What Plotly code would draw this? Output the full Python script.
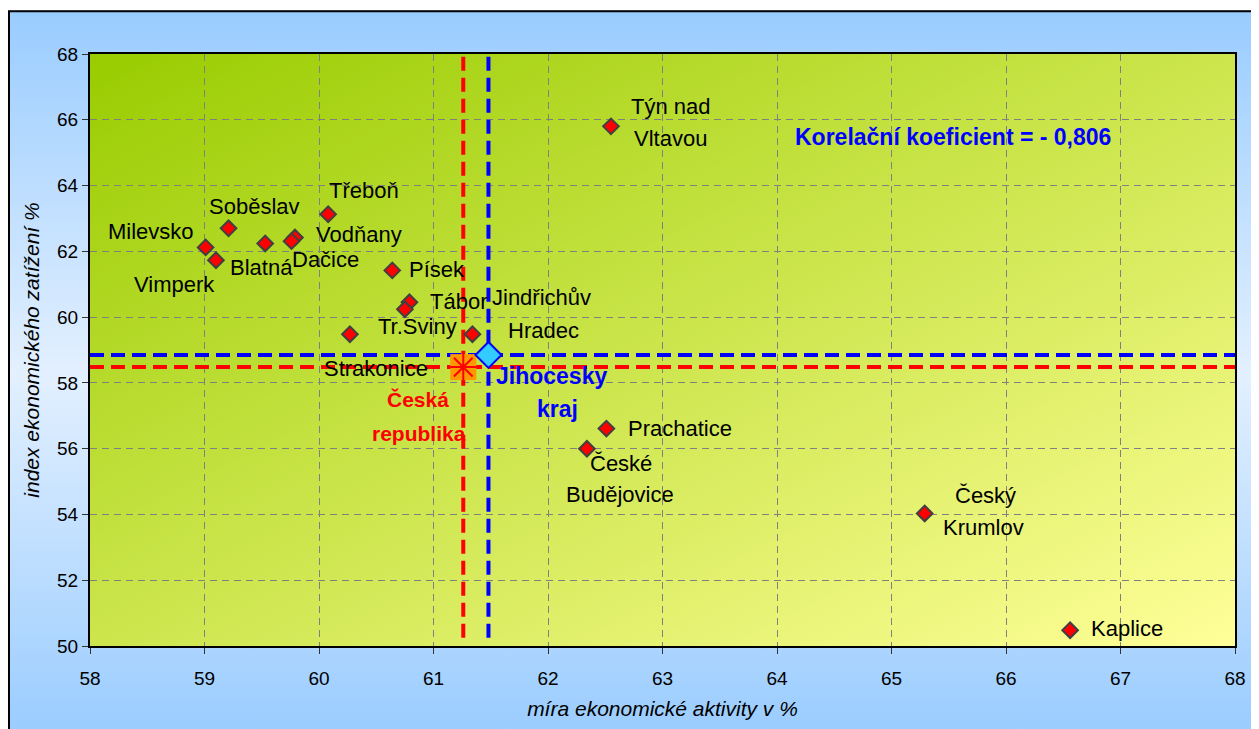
import base64
import plotly.graph_objects as go

# ---------------- data ----------------
districts = ["Týn nad Vltavou", "Třeboň", "Soběslav", "Milevsko", "Vimperk", "Blatná",
             "Vodňany", "Dačice", "Písek", "Tábor", "Tr.Sviny", "Strakonice",
             "Jindřichův Hradec", "Prachatice", "České Budějovice", "Český Krumlov", "Kaplice"]
activity = [62.55, 60.08, 59.21, 59.01, 59.10, 59.53,
            59.79, 59.76, 60.64, 60.79, 60.75, 60.27,
            61.34, 62.51, 62.34, 65.29, 66.56]
burden = [65.80, 63.13, 62.70, 62.12, 61.73, 62.24,
          62.42, 62.31, 61.42, 60.45, 60.24, 59.48,
          59.48, 56.61, 56.00, 54.03, 50.48]

kraj_name = "Jihocesky kraj"
kraj_x, kraj_y = 61.48, 58.85
cr_name = "Česká republika"
cr_x, cr_y = 61.26, 58.48

corr_text = "Korelační koeficient = - 0,806"
corr_pos = (65.54, 65.48)
x_ticks = list(range(58, 69, 1))
y_ticks = list(range(50, 69, 2))
x_title = "míra ekonomické aktivity v %"
y_title = "index ekonomického zatížení %"

# label lines with pixel offsets (styling only)
label_lines = {
    "Týn nad Vltavou": [("Týn nad", 60, 20), ("Vltavou", 60, -12)],
    "Třeboň": [("Třeboň", 36, 24)],
    "Soběslav": [("Soběslav", 26, 22)],
    "Milevsko": [("Milevsko", -55, 16)],
    "Vimperk": [("Vimperk", -41, -24)],
    "Blatná": [("Blatná", -4, -24)],
    "Vodňany": [("Vodňany", 64, 3)],
    "Dačice": [("Dačice", 34, -18)],
    "Písek": [("Písek", 45, 1)],
    "Tábor": [("Tábor", 49, 1)],
    "Tr.Sviny": [("Tr.Sviny", 13, -17)],
    "Strakonice": [("Strakonice", 26, -34)],
    "Jindřichův Hradec": [("Jindřichův", 69, 37), ("Hradec", 71, 4)],
    "Prachatice": [("Prachatice", 74, 0)],
    "České Budějovice": [("České", 34, -15), ("Budějovice", 33, -46)],
    "Český Krumlov": [("Český", 61, 18), ("Krumlov", 59, -14)],
    "Kaplice": [("Kaplice", 57, 2)],
}

FONT = "Liberation Sans, Arial, sans-serif"
DASH = "14px,7px"
fig = go.Figure()

# reference lines (Czech Republic = red, region = blue)
fig.add_trace(go.Scatter(x=[cr_x, cr_x], y=[50.25, 68], mode="lines",
                         line=dict(color="#FF0000", width=4, dash=DASH), hoverinfo="skip"))
fig.add_trace(go.Scatter(x=[58, 68], y=[cr_y, cr_y], mode="lines",
                         line=dict(color="#FF0000", width=4, dash=DASH), hoverinfo="skip"))
fig.add_trace(go.Scatter(x=[kraj_x, kraj_x], y=[50.25, 68], mode="lines",
                         line=dict(color="#0000FF", width=4, dash=DASH), hoverinfo="skip"))
fig.add_trace(go.Scatter(x=[58, 68], y=[kraj_y, kraj_y], mode="lines",
                         line=dict(color="#0000FF", width=4, dash=DASH), hoverinfo="skip"))

# districts
fig.add_trace(go.Scatter(x=activity, y=burden, mode="markers", text=districts,
                         marker=dict(symbol="diamond", size=12, color="#FF0000",
                                     line=dict(color="#404040", width=2))))
# Czech Republic marker
fig.add_trace(go.Scatter(x=[cr_x], y=[cr_y], mode="markers",
                         marker=dict(symbol="square", size=26, color="#FF9900",
                                     line=dict(width=0))))
fig.add_trace(go.Scatter(x=[cr_x], y=[cr_y], mode="markers",
                         marker=dict(symbol="asterisk-open", size=22, color="#FF0000",
                                     line=dict(color="#FF0000", width=2))))
# region marker
fig.add_trace(go.Scatter(x=[kraj_x], y=[kraj_y], mode="markers",
                         marker=dict(symbol="diamond", size=20, color="#33CCFF",
                                     line=dict(color="#0000FF", width=2))))

annotations = []
for name, xv, yv in zip(districts, activity, burden):
    for txt, dx, dy in label_lines[name]:
        annotations.append(dict(x=xv, y=yv, xref="x", yref="y", text=txt, showarrow=False,
                                xshift=dx, yshift=dy, xanchor="center", yanchor="middle",
                                font=dict(family=FONT, size=22, color="black")))
for txt, dx, dy in [("Česká", -45, -32), ("republika", -44, -66)]:
    annotations.append(dict(x=cr_x, y=cr_y, text=f"<b>{txt}</b>", showarrow=False,
                            xshift=dx, yshift=dy, font=dict(family=FONT, size=21, color="#FF0000")))
kraj_parts = kraj_name.split(" ")
for txt, dx, dy in [(kraj_parts[0], 63, -21), (kraj_parts[1], 69, -54)]:
    annotations.append(dict(x=kraj_x, y=kraj_y, text=f"<b>{txt}</b>", showarrow=False,
                            xshift=dx, yshift=dy, font=dict(family=FONT, size=23, color="#0000FF")))
annotations.append(dict(x=corr_pos[0], y=corr_pos[1], text=f"<b>{corr_text}</b>", showarrow=False,
                        font=dict(family=FONT, size=23, color="#0000FF")))


def svg_uri(svg):
    return "data:image/svg+xml;base64," + base64.b64encode(svg.encode("utf-8")).decode()


paper_svg = ('<svg xmlns="http://www.w3.org/2000/svg" width="100" height="100" preserveAspectRatio="none" viewBox="0 0 100 100">'
             '<defs><linearGradient id="g" x1="0" y1="0" x2="0" y2="1">'
             '<stop offset="0" stop-color="#99CCFF"/><stop offset="0.5" stop-color="#E3F0FF"/>'
             '<stop offset="1" stop-color="#99CCFF"/></linearGradient></defs>'
             '<rect x="0" y="0" width="100" height="100" fill="url(#g)"/></svg>')
plot_svg = ('<svg xmlns="http://www.w3.org/2000/svg" width="100" height="100" preserveAspectRatio="none" viewBox="0 0 100 100">'
            '<defs><linearGradient id="h" x1="0" y1="0" x2="1" y2="1">'
            '<stop offset="0" stop-color="#99CC00"/><stop offset="1" stop-color="#FFFF99"/>'
            '</linearGradient></defs>'
            '<rect x="0" y="0" width="100" height="100" fill="url(#h)"/></svg>')

# page offset of the figure inside the browser window (body margin)
OFF = 8
W, H = 1251, 721
ML, MT = 90 - OFF, 54 - OFF
MR = W - (1235 - OFF)
MB = H - (648 - OFF)
pw, ph = W - ML - MR, H - MT - MB


def px(xs):  # screenshot x -> paper
    return (xs - OFF - ML) / pw


def py(ys):  # screenshot y -> paper
    return (H - MB - (ys - OFF)) / ph


images = [
    dict(source=svg_uri(paper_svg), xref="paper", yref="paper", x=px(8), y=py(10),
         sizex=px(1262) - px(8), sizey=py(10) - py(740), sizing="stretch",
         xanchor="left", yanchor="top", layer="below"),
    dict(source=svg_uri(plot_svg), xref="paper", yref="paper", x=0, y=1, sizex=1, sizey=1,
         sizing="stretch", xanchor="left", yanchor="top", layer="below"),
]
shapes = [dict(type="rect", xref="paper", yref="paper", x0=px(9), x1=px(1275), y0=py(745), y1=py(11),
               line=dict(color="black", width=2), fillcolor="rgba(0,0,0,0)", layer="below")]

fig.update_layout(
    width=W, height=H,
    margin=dict(l=ML, r=MR, t=MT, b=MB),
    paper_bgcolor="white",
    plot_bgcolor="rgba(0,0,0,0)",
    showlegend=False,
    images=images,
    shapes=shapes,
    annotations=annotations,
    font=dict(family=FONT, color="black"),
    xaxis=dict(range=[58, 68], tickvals=x_ticks, ticks="outside", ticklen=6, tickcolor="#333333",
               showline=True, linecolor="black", linewidth=2, mirror=True,
               showgrid=True, gridcolor="#808080", griddash="7px,5px", gridwidth=1,
               zeroline=False, tickfont=dict(size=19, color="black"), ticklabelstandoff=8,
               title=dict(text=f"<i>{x_title}</i>", font=dict(size=21, color="black"), standoff=14)),
    yaxis=dict(range=[50, 68], tickvals=y_ticks, ticks="outside", ticklen=6, tickcolor="#333333",
               showline=True, linecolor="black", linewidth=2, mirror=True,
               showgrid=True, gridcolor="#808080", griddash="7px,5px", gridwidth=1,
               zeroline=False, tickfont=dict(size=19, color="black"),
               title=dict(text=f"<i>{y_title}</i>", font=dict(size=21, color="black"), standoff=12)),
)

fig.write_html("out.html")
